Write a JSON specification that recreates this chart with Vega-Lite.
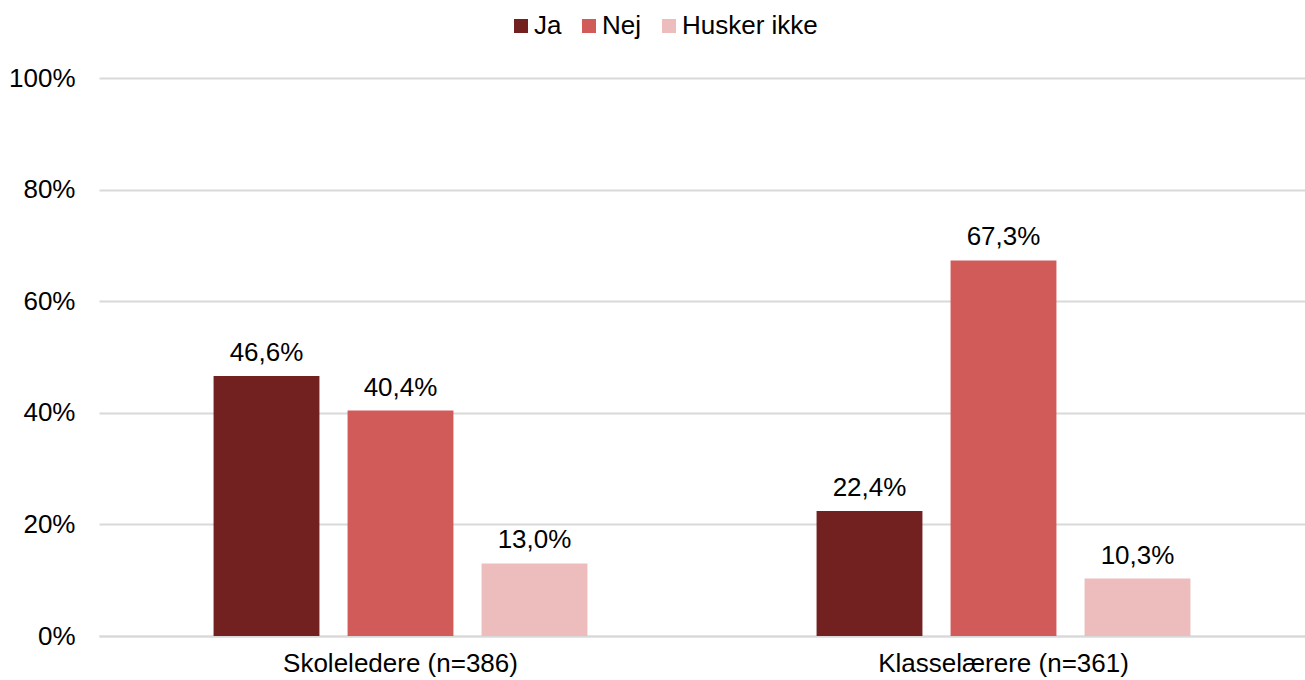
{
  "$schema": "https://vega.github.io/schema/vega-lite/v6.json",
  "width": 1206,
  "height": 558,
  "autosize": {"type": "none"},
  "padding": {"left": 99, "top": 78, "right": 0, "bottom": 44},
  "background": "white",
  "config": {
    "locale": {"number": {"decimal": ",", "thousands": ".", "grouping": [3], "currency": ["", " kr."]}},
    "font": "Liberation Sans",
    "view": {"stroke": null}
  },
  "data": {
    "values": [
      {"gruppe": "Skoleledere (n=386)", "svar": "Ja", "andel": 0.466},
      {"gruppe": "Skoleledere (n=386)", "svar": "Nej", "andel": 0.404},
      {"gruppe": "Skoleledere (n=386)", "svar": "Husker ikke", "andel": 0.130},
      {"gruppe": "Klasselærere (n=361)", "svar": "Ja", "andel": 0.224},
      {"gruppe": "Klasselærere (n=361)", "svar": "Nej", "andel": 0.673},
      {"gruppe": "Klasselærere (n=361)", "svar": "Husker ikke", "andel": 0.103}
    ]
  },
  "encoding": {
    "x": {
      "field": "gruppe", "type": "nominal", "sort": null,
      "scale": {"paddingInner": 0.38, "paddingOuter": 0.19},
      "axis": {"title": null, "labelAngle": 0, "labelFontSize": 26, "labelLimit": 0, "labelColor": "#000000", "labelPadding": 14, "ticks": false, "domainColor": "#d9d9d9", "domainWidth": 2, "labelFont": "Liberation Sans"}
    },
    "xOffset": {
      "field": "svar", "type": "nominal", "sort": ["Ja", "Nej", "Husker ikke"],
      "scale": {"paddingInner": 0.21, "paddingOuter": 0}
    },
    "y": {
      "field": "andel", "type": "quantitative",
      "scale": {"domain": [0, 1], "nice": false},
      "axis": {"title": null, "format": ".0%", "values": [0, 0.2, 0.4, 0.6, 0.8, 1], "labelFontSize": 26, "labelColor": "#000000", "labelPadding": 24, "ticks": false, "domain": false, "gridColor": "#d9d9d9", "gridWidth": 2, "labelFont": "Liberation Sans"}
    }
  },
  "layer": [
    {
      "mark": {"type": "bar"},
      "encoding": {
        "color": {
          "field": "svar", "type": "nominal", "sort": ["Ja", "Nej", "Husker ikke"],
          "scale": {"domain": ["Ja", "Nej", "Husker ikke"], "range": ["#722120", "#d05b59", "#edbdbe"]},
          "legend": {
            "title": null, "orient": "none", "direction": "horizontal",
            "legendX": 409, "legendY": -65,
            "symbolType": "square", "symbolSize": 196, "symbolStrokeWidth": 0,
            "labelFontSize": 26, "labelColor": "#000000", "labelOffset": 0, "columnPadding": 14,
            "labelFont": "Liberation Sans"
          }
        }
      }
    },
    {
      "mark": {"type": "text", "fontSize": 26, "color": "#000000", "baseline": "alphabetic", "dy": -15, "font": "Liberation Sans"},
      "encoding": {
        "text": {"field": "andel", "type": "quantitative", "format": ".1%"}
      }
    }
  ]
}
